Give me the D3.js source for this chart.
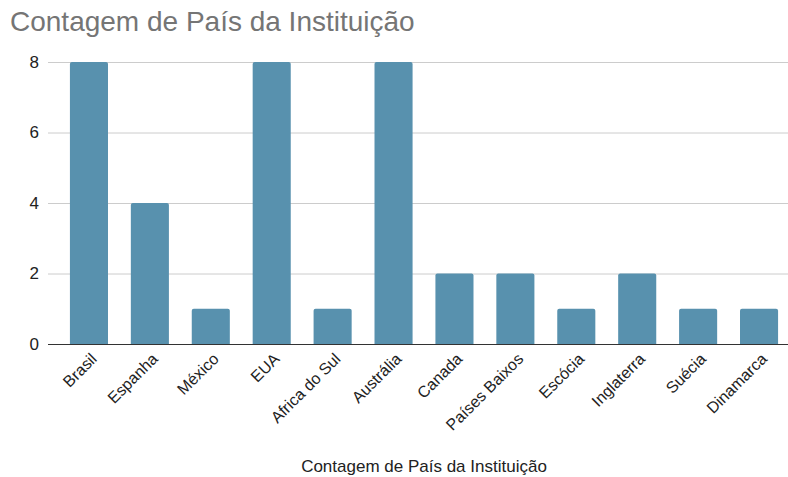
<!DOCTYPE html>
<html>
<head>
<meta charset="utf-8">
<script src="https://cdn.jsdelivr.net/npm/d3@7"></script>
<style>
  body { margin: 0; background: #fff; }
  svg { font-family: "Liberation Sans", Arial, sans-serif; }
</style>
</head>
<body>
<svg id="chart"></svg>
<script>
// Contagem de país da instituição - gráfico de colunas

const paises = ['Brasil', 'Espanha', 'México', 'EUA', 'Africa do Sul', 'Austrália',
    'Canada', 'Países Baixos', 'Escócia', 'Inglaterra', 'Suécia', 'Dinamarca'];
const contagens = [8, 4, 1, 8, 1, 8, 2, 2, 1, 2, 1, 1];
const ticksY = [0, 2, 4, 6, 8];

const width = 788;
const height = 477;
const margin = {top: 62, right: 0, bottom: 133, left: 48};

const svg = d3.select('#chart')
    .attr('width', width)
    .attr('height', height);

// Escalas
const x = d3.scaleBand()
    .domain(paises)
    .range([58.5, 789.5])
    .paddingInner(0.375)
    .paddingOuter(0.1875);

const y = d3.scaleLinear()
    .domain([0, 8])
    .range([height - margin.bottom, margin.top]);

// Título
svg.append('text')
    .attr('x', 10)
    .attr('y', 31)
    .style('font-size', '28px')
    .style('fill', '#757575')
    .text('Contagem de País da Instituição');

// Grade e eixo Y
const eixoY = svg.append('g')
    .attr('transform', `translate(${ margin.left },0)`)
    .call(d3.axisLeft(y).tickValues(ticksY).tickSize(-(width - margin.left)).tickFormat(d3.format('d')));

eixoY.select('.domain').remove();
eixoY.selectAll('.tick line').attr('stroke', '#cccccc');
eixoY.selectAll('.tick text')
    .attr('x', -9)
    .style('font-size', '17px')
    .style('fill', '#222');

// Barras
const r = 2;
svg.append('g')
    .selectAll('path')
    .data(paises)
    .enter()
    .append('path')
    .attr('fill', '#5891ae')
    .attr('d', (d, i) => {
        const x0 = x(d);
        const w = x.bandwidth();
        const y0 = y(contagens[i]);
        const y1 = y(0);
        return `M${ x0 },${ y1 }V${ y0 + r }Q${ x0 },${ y0 } ${ x0 + r },${ y0 }` +
            `H${ x0 + w - r }Q${ x0 + w },${ y0 } ${ x0 + w },${ y0 + r }V${ y1 }Z`;
    });

// Eixo X
const eixoX = svg.append('g')
    .attr('transform', `translate(0,${ y(0) })`)
    .call(d3.axisBottom(x).tickSize(0));

eixoX.select('.domain')
    .attr('d', `M${ margin.left },0.5H${ width }`)
    .attr('stroke', '#333');

eixoX.selectAll('.tick text')
    .attr('text-anchor', 'end')
    .attr('transform', 'translate(1,8) rotate(-45)')
    .attr('dy', '0.7em')
    .attr('y', 0)
    .style('font-size', '16px')
    .style('fill', '#222');

// Título do eixo X
svg.append('text')
    .attr('x', 424)
    .attr('y', 472)
    .attr('text-anchor', 'middle')
    .style('font-size', '17px')
    .style('fill', '#222')
    .text('Contagem de País da Instituição');
</script>
</body>
</html>
